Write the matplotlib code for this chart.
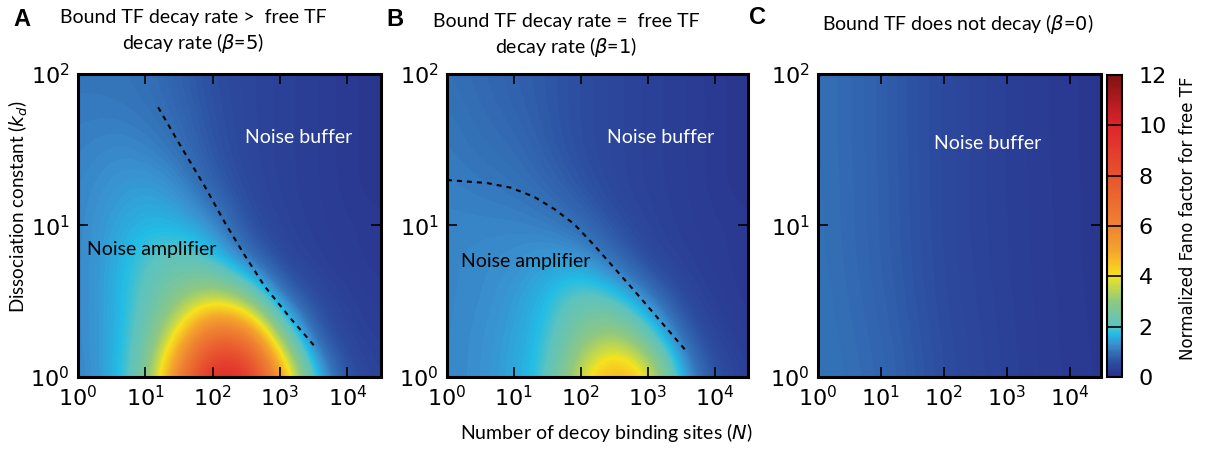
import numpy as np
import matplotlib
matplotlib.use("Agg")
import matplotlib.pyplot as plt
from matplotlib.colors import LinearSegmentedColormap, Normalize
from matplotlib.cm import ScalarMappable

log_n = [0, 0.5, 1, 1.5, 2, 2.5, 3, 3.5, 4, 4.5]
log_kd = [0, 0.25, 0.5, 0.75, 1, 1.25, 1.5, 1.75, 2]

# rows go from kd=10^0 (bottom) to kd=10^2 (top)
fano_beta5 = [
    [1.15, 1.5, 2.4, 6.3, 10.3, 10.0, 5.5, 1.8, 0.6, 0.35],
    [1.2, 1.5, 2.2, 4.3, 7.5, 7.0, 3.0, 0.8, 0.4, 0.3],
    [1.2, 1.5, 2.1, 2.9, 3.8, 3.0, 1.1, 0.55, 0.35, 0.25],
    [1.2, 1.5, 2.0, 2.3, 1.9, 1.1, 0.5, 0.35, 0.25, 0.2],
    [1.2, 1.45, 1.65, 1.6, 1.3, 0.6, 0.4, 0.3, 0.25, 0.2],
    [1.2, 1.35, 1.45, 1.3, 0.8, 0.5, 0.35, 0.3, 0.2, 0.15],
    [1.15, 1.25, 1.2, 1.0, 0.65, 0.45, 0.35, 0.3, 0.2, 0.15],
    [1.1, 1.1, 1.05, 0.9, 0.6, 0.45, 0.35, 0.3, 0.2, 0.15],
    [1.05, 1.05, 1.0, 0.8, 0.55, 0.45, 0.35, 0.3, 0.2, 0.15],
]
fano_beta1 = [
    [1.2, 1.3, 1.5, 1.9, 3.8, 5.3, 4.3, 1.5, 0.6, 0.3],
    [1.2, 1.3, 1.45, 1.8, 2.8, 3.5, 2.3, 0.9, 0.4, 0.25],
    [1.2, 1.25, 1.4, 1.7, 2.3, 2.0, 1.2, 0.5, 0.3, 0.2],
    [1.2, 1.25, 1.3, 1.45, 1.45, 1.0, 0.5, 0.35, 0.25, 0.2],
    [1.2, 1.2, 1.2, 1.15, 0.95, 0.6, 0.4, 0.3, 0.25, 0.2],
    [1.15, 1.1, 1.05, 0.9, 0.65, 0.45, 0.35, 0.3, 0.2, 0.15],
    [1.1, 1.0, 0.95, 0.75, 0.55, 0.45, 0.35, 0.3, 0.2, 0.15],
    [1.05, 0.95, 0.85, 0.7, 0.55, 0.45, 0.35, 0.3, 0.2, 0.15],
    [1.0, 0.9, 0.8, 0.7, 0.55, 0.45, 0.35, 0.3, 0.2, 0.15],
]
fano_beta0 = [
    [1.05, 0.98, 0.88, 0.72, 0.56, 0.45, 0.36, 0.28, 0.22, 0.17],
    [1.04, 0.96, 0.85, 0.70, 0.54, 0.44, 0.35, 0.27, 0.21, 0.17],
    [1.03, 0.94, 0.82, 0.67, 0.52, 0.42, 0.34, 0.27, 0.21, 0.16],
    [1.02, 0.92, 0.80, 0.65, 0.51, 0.41, 0.33, 0.26, 0.20, 0.16],
    [1.01, 0.91, 0.79, 0.64, 0.50, 0.40, 0.33, 0.26, 0.20, 0.16],
    [1.01, 0.91, 0.79, 0.64, 0.50, 0.40, 0.32, 0.26, 0.20, 0.16],
    [1.0, 0.90, 0.78, 0.63, 0.50, 0.40, 0.32, 0.25, 0.20, 0.15],
    [1.0, 0.90, 0.78, 0.63, 0.50, 0.40, 0.32, 0.25, 0.20, 0.15],
    [1.0, 0.90, 0.78, 0.63, 0.50, 0.40, 0.32, 0.25, 0.20, 0.15],
]

# boundary F=1 between amplifier and buffer (log10 N, log10 kd)
bound5_n = [1.19, 1.49, 1.88, 2.18, 2.48, 2.77, 3.17, 3.54]
bound5_kd = [1.78, 1.55, 1.26, 1.02, 0.80, 0.60, 0.38, 0.19]
bound1_n = [0.0, 0.6, 0.95, 1.3, 1.6, 1.9, 2.2, 2.5, 2.8, 3.15, 3.58]
bound1_kd = [1.30, 1.28, 1.25, 1.19, 1.11, 1.01, 0.87, 0.72, 0.57, 0.39, 0.17]

cbar_ticks = [0, 2, 4, 6, 8, 10, 12]

cmap = LinearSegmentedColormap.from_list("fano", [
    (0.0 / 12, "#29308a"), (0.5 / 12, "#2c4a9e"), (1.0 / 12, "#3472b8"),
    (1.3 / 12, "#3a92d0"), (1.7 / 12, "#22bde6"), (2.0 / 12, "#5cc3c0"),
    (3.0 / 12, "#90c880"), (3.7 / 12, "#d0dc40"), (4.0 / 12, "#f7e21e"),
    (5.0 / 12, "#f4a52c"), (6.0 / 12, "#ef8332"), (8.0 / 12, "#e8532f"),
    (10.0 / 12, "#e0242c"), (12.0 / 12, "#7f1212")])
norm = Normalize(0, 12)

label_font = "Lato"
fig = plt.figure(figsize=(12.06, 4.5), dpi=100)

panels = [
    (0.0647, fano_beta5),
    (0.3706, fano_beta1),
    (0.6783, fano_beta0),
]
widths = [0.2512, 0.2496, 0.2347]
axes = []
for (left, data), w in zip(panels, widths):
    ax = fig.add_axes([left, 0.1622, w, 0.6735])
    dx = (log_n[1] - log_n[0]) / 2
    dy = (log_kd[1] - log_kd[0]) / 2
    ax.imshow(np.array(data), origin="lower", cmap=cmap, norm=norm,
              interpolation="bicubic", aspect="auto",
              extent=[log_n[0] - dx, log_n[-1] + dx, log_kd[0] - dy, log_kd[-1] + dy])
    ax.set_xlim(0, 4.5)
    ax.set_ylim(0, 2)
    ax.set_xticks([0, 1, 2, 3, 4])
    ax.set_xticklabels([r"$10^{%d}$" % k for k in range(5)])
    ax.set_yticks([0, 1, 2])
    ax.set_yticklabels([r"$10^{%d}$" % k for k in range(3)])
    ax.tick_params(direction="in", top=True, right=True, length=7, width=1.2,
                   labelsize=16, pad=6)
    for s in ax.spines.values():
        s.set_linewidth(2.2)
    axes.append(ax)

ls = (0, (2.4, 2.4))
axes[0].plot(bound5_n, bound5_kd, color="black", lw=1.5, linestyle=ls)
axes[1].plot(bound1_n, bound1_kd, color="black", lw=1.5, linestyle=ls)

txt = dict(fontsize=14, family=label_font, ha="center", va="center")
axes[0].text(3.27, 1.58, "Noise buffer", color="white", **txt)
axes[1].text(3.2, 1.58, "Noise buffer", color="white", **txt)
axes[2].text(2.7, 1.54, "Noise buffer", color="white", **txt)
axes[0].text(1.10, 0.84, "Noise amplifier", color="black", **txt)
axes[1].text(1.17, 0.76, "Noise amplifier", color="black", **txt)

# titles and panel letters
fig.text(193 / 1206, 1 - 17 / 450, "Bound TF decay rate >  free TF", **txt)
fig.text(193 / 1206, 1 - 43 / 450, r"decay rate ($\beta$=$5$)", **txt)
fig.text(566 / 1206, 1 - 21 / 450, "Bound TF decay rate =  free TF", **txt)
fig.text(566 / 1206, 1 - 47 / 450, r"decay rate ($\beta$=$1$)", **txt)
fig.text(958 / 1206, 1 - 24 / 450, r"Bound TF does not decay ($\beta$=$0$)", **txt)
for x, y, letter in [(22, 20, "A"), (395, 20, "B"), (757, 18, "C")]:
    fig.text(x / 1206, 1 - y / 450, letter, fontsize=17, fontweight="bold",
             family="Liberation Sans", ha="center", va="center")

fig.text(18 / 1206, 1 - 207 / 450, r"Dissociation constant ($k_d$)", fontsize=13.5,
         family=label_font, rotation=90, ha="center", va="center")
fig.text(606 / 1206, 1 - 433 / 450, r"Number of decoy binding sites ($N$)", fontsize=14,
         family=label_font, ha="center", va="center")

# colorbar
cax = fig.add_axes([1107 / 1206, 0.1622, 15 / 1206, 0.6713])
cb = fig.colorbar(ScalarMappable(norm=norm, cmap=cmap), cax=cax, ticks=cbar_ticks)
cb.outline.set_linewidth(1.5)
cax.tick_params(length=0, labelsize=16, pad=12)
for t in cbar_ticks[1:-1]:
    cax.axhline(t, color="black", lw=1.2)
fig.text(1188 / 1206, 1 - 218 / 450, "Normalized Fano factor for free TF", fontsize=12,
         rotation=90, ha="center", va="center")

fig.savefig("out.png", dpi=100)
